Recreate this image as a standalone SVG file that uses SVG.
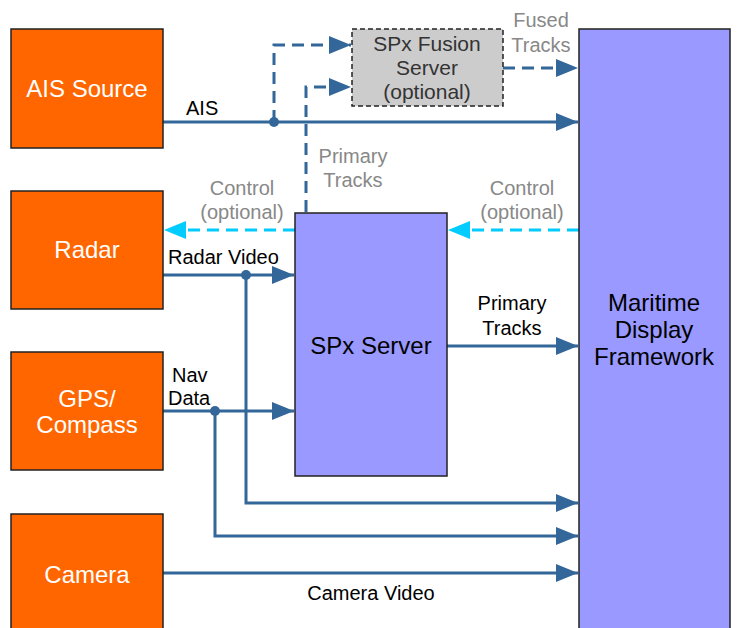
<svg xmlns="http://www.w3.org/2000/svg" width="738" height="628" viewBox="0 0 738 628">
<style>
.src{fill:#FF6600;stroke:#222;stroke-width:1.5}
.srv{fill:#9999FF;stroke:#222;stroke-width:1.5}
.fus{fill:#CCCCCC;stroke:#222;stroke-width:1.5;stroke-dasharray:5 3}
.wt{font-family:"Liberation Sans",Arial,sans-serif;font-size:24px;fill:#fff;text-anchor:middle}
.bt{font-family:"Liberation Sans",Arial,sans-serif;font-size:24px;fill:#000;text-anchor:middle}
.ft{font-family:"Liberation Sans",Arial,sans-serif;font-size:21px;fill:#333;text-anchor:middle}
.lb{font-family:"Liberation Sans",Arial,sans-serif;font-size:20px;fill:#000}
.gl{font-family:"Liberation Sans",Arial,sans-serif;font-size:20px;fill:#888;text-anchor:middle}
.ln{fill:none;stroke:#336699;stroke-width:3}
.dl{fill:none;stroke:#336699;stroke-width:3;stroke-dasharray:12 7}
.cl{fill:none;stroke:#00CCFF;stroke-width:3;stroke-dasharray:12 7}
</style>
<defs>
<marker id="ab" markerUnits="userSpaceOnUse" markerWidth="24" markerHeight="18" refX="22" refY="9" orient="auto"><path d="M0,0 L22,9 L0,18 Z" fill="#336699"/></marker>
<marker id="ac" markerUnits="userSpaceOnUse" markerWidth="24" markerHeight="18" refX="22" refY="9" orient="auto"><path d="M0,0 L22,9 L0,18 Z" fill="#00CCFF"/></marker>
</defs>
<g id="connectors">
<path class="ln" d="M163,122 H578" marker-end="url(#ab)"/>
<path class="dl" d="M274,122 V45 H351" marker-end="url(#ab)"/>
<path class="dl" d="M306,212 V87 H351" marker-end="url(#ab)"/>
<path class="dl" d="M503,68 H578" marker-end="url(#ab)"/>
<path class="cl" d="M579,230 H448" marker-end="url(#ac)"/>
<path class="cl" d="M295,230 H164" marker-end="url(#ac)"/>
<path class="ln" d="M163,275 H294" marker-end="url(#ab)"/>
<path class="ln" d="M246,275 V503 H578" marker-end="url(#ab)"/>
<path class="ln" d="M163,411 H294" marker-end="url(#ab)"/>
<path class="ln" d="M215,411 V536 H578" marker-end="url(#ab)"/>
<path class="ln" d="M447,346 H578" marker-end="url(#ab)"/>
<path class="ln" d="M163,573 H578" marker-end="url(#ab)"/>
<circle cx="274" cy="122" r="5" fill="#336699"/>
<circle cx="246" cy="275" r="5" fill="#336699"/>
<circle cx="215" cy="411" r="5" fill="#336699"/>
<text class="lb" x="186" y="115">AIS</text>
<text class="lb" x="168" y="264">Radar Video</text>
<text class="lb" x="172" y="382">Nav</text>
<text class="lb" x="168" y="405">Data</text>
<text class="lb" x="371" y="600" text-anchor="middle">Camera Video</text>
<text class="lb" x="512" y="310" text-anchor="middle">Primary</text>
<text class="lb" x="512" y="335" text-anchor="middle">Tracks</text>
<text class="gl" x="353" y="163">Primary</text>
<text class="gl" x="353" y="187">Tracks</text>
<text class="gl" x="242" y="195">Control</text>
<text class="gl" x="242" y="219">(optional)</text>
<text class="gl" x="522" y="195">Control</text>
<text class="gl" x="522" y="219">(optional)</text>
<text class="gl" x="541" y="27">Fused</text>
<text class="gl" x="541" y="52">Tracks</text>
</g>
<g id="ais"><rect class="src" x="11" y="29" width="152" height="119"/><text class="wt" x="87" y="97">AIS Source</text></g>
<g id="radar"><rect class="src" x="11" y="191" width="152" height="118"/><text class="wt" x="87" y="258">Radar</text></g>
<g id="gps"><rect class="src" x="11" y="352" width="152" height="118"/><text class="wt" x="87" y="407">GPS/</text><text class="wt" x="87" y="433">Compass</text></g>
<g id="camera"><rect class="src" x="11" y="514" width="152" height="120"/><text class="wt" x="87" y="583">Camera</text></g>
<g id="spx"><rect class="srv" x="295" y="213" width="152" height="263"/><text class="bt" x="371" y="354">SPx Server</text></g>
<g id="fusion"><rect class="fus" x="352" y="29" width="151" height="77"/><text class="ft" x="427" y="51">SPx Fusion</text><text class="ft" x="427" y="75">Server</text><text class="ft" x="427" y="99">(optional)</text></g>
<g id="maritime"><rect class="srv" x="579" y="29" width="151" height="605"/><text class="bt" x="654" y="311">Maritime</text><text class="bt" x="654" y="338">Display</text><text class="bt" x="654" y="365">Framework</text></g>
</svg>
